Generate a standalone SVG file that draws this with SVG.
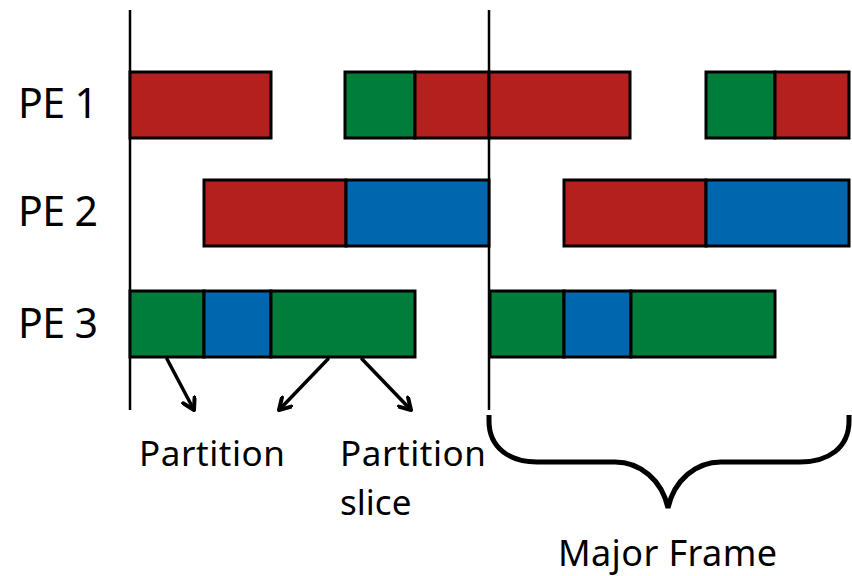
<svg xmlns="http://www.w3.org/2000/svg" width="852" height="576" viewBox="0 0 852 576">
<defs>
<style>
.r{fill:#b4201d}.g{fill:#007d3a}.b{fill:#0066ae}
.bar rect{stroke:#000;stroke-width:3}
.ln{stroke:#000;stroke-width:2.5;fill:none}
.ar{stroke:#000;stroke-width:3.5;fill:none;stroke-linecap:round}
.t{font-family:"Noto Sans","Open Sans",sans-serif;fill:#000}
</style>
<marker id="ah" viewBox="0 0 16 16" refX="13" refY="8" markerWidth="16" markerHeight="16" markerUnits="userSpaceOnUse" orient="auto">
<path d="M2,1.5 L13,8 L2,14.5" fill="none" stroke="#000" stroke-width="4" stroke-linecap="round" stroke-linejoin="round"/>
</marker>
</defs>
<rect width="852" height="576" fill="#fff"/>
<g id="axes">
<line class="ln" x1="130" y1="10" x2="130" y2="410"/>
<line class="ln" x1="489" y1="10" x2="489" y2="410"/>
</g>
<g id="labels">
<text class="t" x="18" y="118" font-size="41" textLength="80">PE 1</text>
<text class="t" x="18" y="226" font-size="41" textLength="80">PE 2</text>
<text class="t" x="18" y="338" font-size="41" textLength="80">PE 3</text>
</g>
<g id="pe1" class="bar">
<rect class="r" x="130" y="72" width="141" height="66"/>
<rect class="g" x="345" y="72" width="70" height="66"/>
<rect class="r" x="415" y="72" width="74" height="66"/>
<rect class="r" x="489" y="72" width="141" height="66"/>
<rect class="g" x="706" y="72" width="69" height="66"/>
<rect class="r" x="775" y="72" width="74" height="66"/>
</g>
<g id="pe2" class="bar">
<rect class="r" x="204" y="180" width="142" height="66"/>
<rect class="b" x="346" y="180" width="143" height="66"/>
<rect class="r" x="564" y="180" width="142" height="66"/>
<rect class="b" x="706" y="180" width="143" height="66"/>
</g>
<g id="pe3" class="bar">
<rect class="g" x="130" y="291" width="74" height="66"/>
<rect class="b" x="204" y="291" width="67" height="66"/>
<rect class="g" x="271" y="291" width="144" height="66"/>
<rect class="g" x="490" y="291" width="74" height="66"/>
<rect class="b" x="564" y="291" width="67" height="66"/>
<rect class="g" x="631" y="291" width="144" height="66"/>
</g>
<g id="connectors">
<line class="ar" x1="167" y1="359" x2="194" y2="410" marker-end="url(#ah)"/>
<line class="ar" x1="328" y1="359" x2="279" y2="410" marker-end="url(#ah)"/>
<line class="ar" x1="362" y1="359" x2="411" y2="410" marker-end="url(#ah)"/>
</g>
<g id="brace">
<path d="M489,415 L489,421 C489,448 510,462 537,462 L615,462 C640,462 662,480 668,508 C674,480 696,462 721,462 L800,462 C828,462 849,448 849,421 L849,415" fill="none" stroke="#000" stroke-width="5" stroke-linecap="butt"/>
</g>
<g id="texts">
<text class="t" x="139" y="466" font-size="35" textLength="146">Partition</text>
<text class="t" x="340" y="466" font-size="35" textLength="146">Partition</text>
<text class="t" x="340" y="515" font-size="35">slice</text>
<text class="t" x="558" y="566" font-size="36" textLength="219">Major Frame</text>
</g>
</svg>
